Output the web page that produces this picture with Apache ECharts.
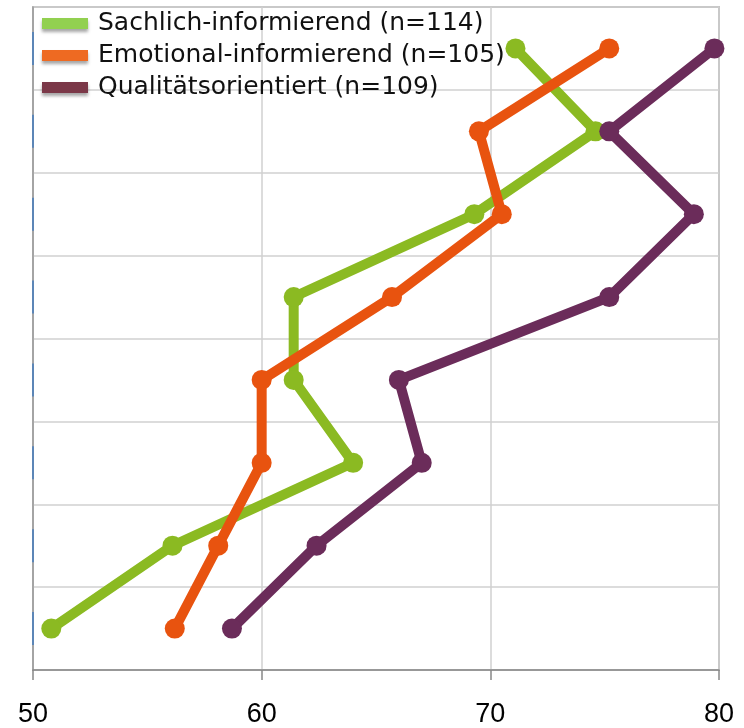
<!DOCTYPE html>
<html><head><meta charset="utf-8">
<script src="https://cdn.jsdelivr.net/npm/echarts@6/dist/echarts.min.js"></script>
<style>html,body{margin:0;padding:0;background:#fff}#c{width:744px;height:728px}</style>
</head><body><div id="c"></div>
<script>
const categories = ["Item 1","Item 2","Item 3","Item 4","Item 5","Item 6","Item 7","Item 8"];
const xTicks = [50, 60, 70, 80];
const seriesNames = ["Sachlich-informierend (n=114)","Emotional-informierend (n=105)","Qualitätsorientiert (n=109)"];
const sachlich = [71.1, 74.6, 69.3, 61.4, 61.4, 64.0, 56.1, 50.8];
const emotional = [75.2, 69.5, 70.5, 65.7, 60.0, 60.0, 58.1, 56.2];
const qualitaet = [79.8, 75.2, 78.9, 75.2, 66.0, 67.0, 62.4, 58.7];

const lineColors = ["#8bba22", "#e8530f", "#6b2c5a"];
const legendColors = ["#92d050", "#ee6a22", "#7b3848"];
const values = [sachlich, emotional, qualitaet];

const chart = echarts.init(document.getElementById('c'), null, {renderer: 'canvas'});
const font = "'DejaVu Sans', sans-serif";
const xMin = xTicks[0], xMax = xTicks[xTicks.length - 1];

const series = values.map((v, i) => ({
  name: seriesNames[i],
  type: 'line',
  data: v.map((x, j) => [x, categories[j]]),
  symbol: 'circle',
  symbolSize: 20,
  lineStyle: {width: 10, color: lineColors[i]},
  itemStyle: {color: lineColors[i]},
  z: 3 + i
}));
series.push({
  type: 'scatter', silent: true, z: 10,
  symbol: 'rect', symbolSize: [2, 33],
  itemStyle: {color: '#4a7ebb'},
  data: categories.map(c => [xMin, c])
});

chart.setOption({
  animation: false,
  grid: {left: 33, right: 25, top: 7, bottom: 57, show: true, borderColor: '#999', borderWidth: 1.5},
  legend: {
    orient: 'vertical', left: 42, top: 11, itemGap: 7, padding: 0,
    icon: 'rect', itemWidth: 46, itemHeight: 11,
    textStyle: {fontFamily: font, fontSize: 25, color: '#111', lineHeight: 24, padding: [0, 0, 0, 5]},
    itemStyle: {shadowBlur: 3, shadowOffsetY: 3, shadowColor: 'rgba(0,0,0,0.35)'},
    data: seriesNames.map((n, i) => ({name: n, itemStyle: {color: legendColors[i]}}))
  },
  xAxis: {
    type: 'value', min: xMin, max: xMax, interval: 10,
    axisLine: {show: true, lineStyle: {color: '#888', width: 1.5}},
    axisTick: {show: true, length: 10, lineStyle: {color: '#888', width: 1.5}},
    axisLabel: {fontFamily: "'Liberation Sans', sans-serif", fontSize: 27, color: '#000', margin: 31},
    splitLine: {show: true, lineStyle: {color: '#d0d0d0', width: 1.5}}
  },
  yAxis: {
    type: 'category', data: categories, inverse: true,
    axisLine: {show: true, lineStyle: {color: '#999', width: 1.5}},
    axisTick: {show: false},
    axisLabel: {show: false},
    splitLine: {show: true, lineStyle: {color: '#d0d0d0', width: 1.5}}
  },
  series: series
});
</script></body></html>
